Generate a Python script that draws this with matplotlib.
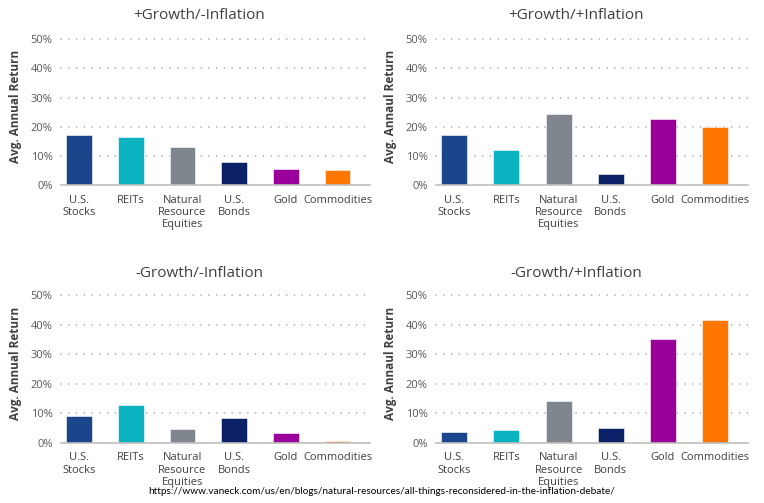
import matplotlib.pyplot as plt
import numpy as np

# 数据
categories = ['U.S.\nStocks', 'REITs', 'Natural\nResource\nEquities', 'U.S.\nBonds', 'Gold', 'Commodities']
bar_colors = ['#1b468c', '#0bb2bf', '#7f868e', '#0b2066', '#990099', '#ff7700']

titles = ['+Growth/-Inflation', '+Growth/+Inflation', '-Growth/-Inflation', '-Growth/+Inflation']
ylabels = ['Avg. Annual Return', 'Avg. Annaul Return', 'Avg. Annual Return', 'Avg. Annaul Return']

pos_growth_neg_infl = [17.3, 16.4, 13.2, 8.1, 5.6, 5.2]
pos_growth_pos_infl = [17.2, 12.0, 24.3, 3.9, 22.7, 19.8]
neg_growth_neg_infl = [9.2, 12.8, 4.7, 8.4, 3.2, 0.5]
neg_growth_pos_infl = [3.6, 4.3, 14.0, 4.9, 35.2, 41.6]

yticks = [0, 10, 20, 30, 40, 50]
source = 'https://www.vaneck.com/us/en/blogs/natural-resources/all-things-reconsidered-in-the-inflation-debate/'

plt.rcParams['font.family'] = ['Open Sans', 'DejaVu Sans']

fig = plt.figure(figsize=(7.64, 5.03), dpi=100)

# 各子图位置 (left, bottom, width, height)
W, H = 764, 503
boxes = [
    (61 / W, 1 - 185.3 / H, 309 / W, 146.3 / H),
    (436 / W, 1 - 185.3 / H, 312 / W, 146.3 / H),
    (61 / W, 1 - 442.7 / H, 309 / W, 147.4 / H),
    (436 / W, 1 - 442.7 / H, 312 / W, 147.4 / H),
]
series = [pos_growth_neg_infl, pos_growth_pos_infl, neg_growth_neg_infl, neg_growth_pos_infl]
pads = [14.4, 14.4, 13, 13]

for box, vals, title, ylab, pad in zip(boxes, series, titles, ylabels, pads):
    ax = fig.add_axes(box)
    x = np.arange(len(categories))
    ax.bar(x, vals, width=0.5, color=bar_colors, edgecolor='white', linewidth=0.4, zorder=3)

    ax.set_xlim(-0.35, 5.63)
    ax.set_ylim(0, 50)
    ax.set_yticks(yticks)
    ax.set_yticklabels([f'{t}%' for t in yticks], fontsize=8, color='#595959')
    ax.set_xticks(x)
    ax.set_xticklabels(categories, fontsize=8, color='#404040', linespacing=1.15)
    ax.tick_params(length=0, pad=6)
    ax.tick_params(axis='x', pad=7)

    # 点状网格线
    for t in yticks[1:]:
        ax.axhline(t, color='#b3b3b3', linewidth=1.3, linestyle=(0, (0.01, 4.3)),
                   dash_capstyle='round', zorder=1, clip_on=False)

    for s in ['top', 'right', 'left']:
        ax.spines[s].set_visible(False)
    ax.spines['bottom'].set_color('#bfbfbf')
    ax.spines['bottom'].set_linewidth(1.2)
    ax.spines['bottom'].set_zorder(4)

    ax.set_title(title, fontsize=11, color='#404040', pad=pad)
    ax.title.set_x(0.5 - 16 / 309)
    ax.set_ylabel(ylab, fontsize=8.5, fontweight='bold', color='#404040')
    ax.yaxis.set_label_coords(-0.125, 0.54)

fig.text(0.5, 1 - 492 / H, source, ha='center', va='center', fontsize=7.2,
         color='black', family=['Lato', 'DejaVu Sans'])

plt.savefig('out.png', dpi=100)
